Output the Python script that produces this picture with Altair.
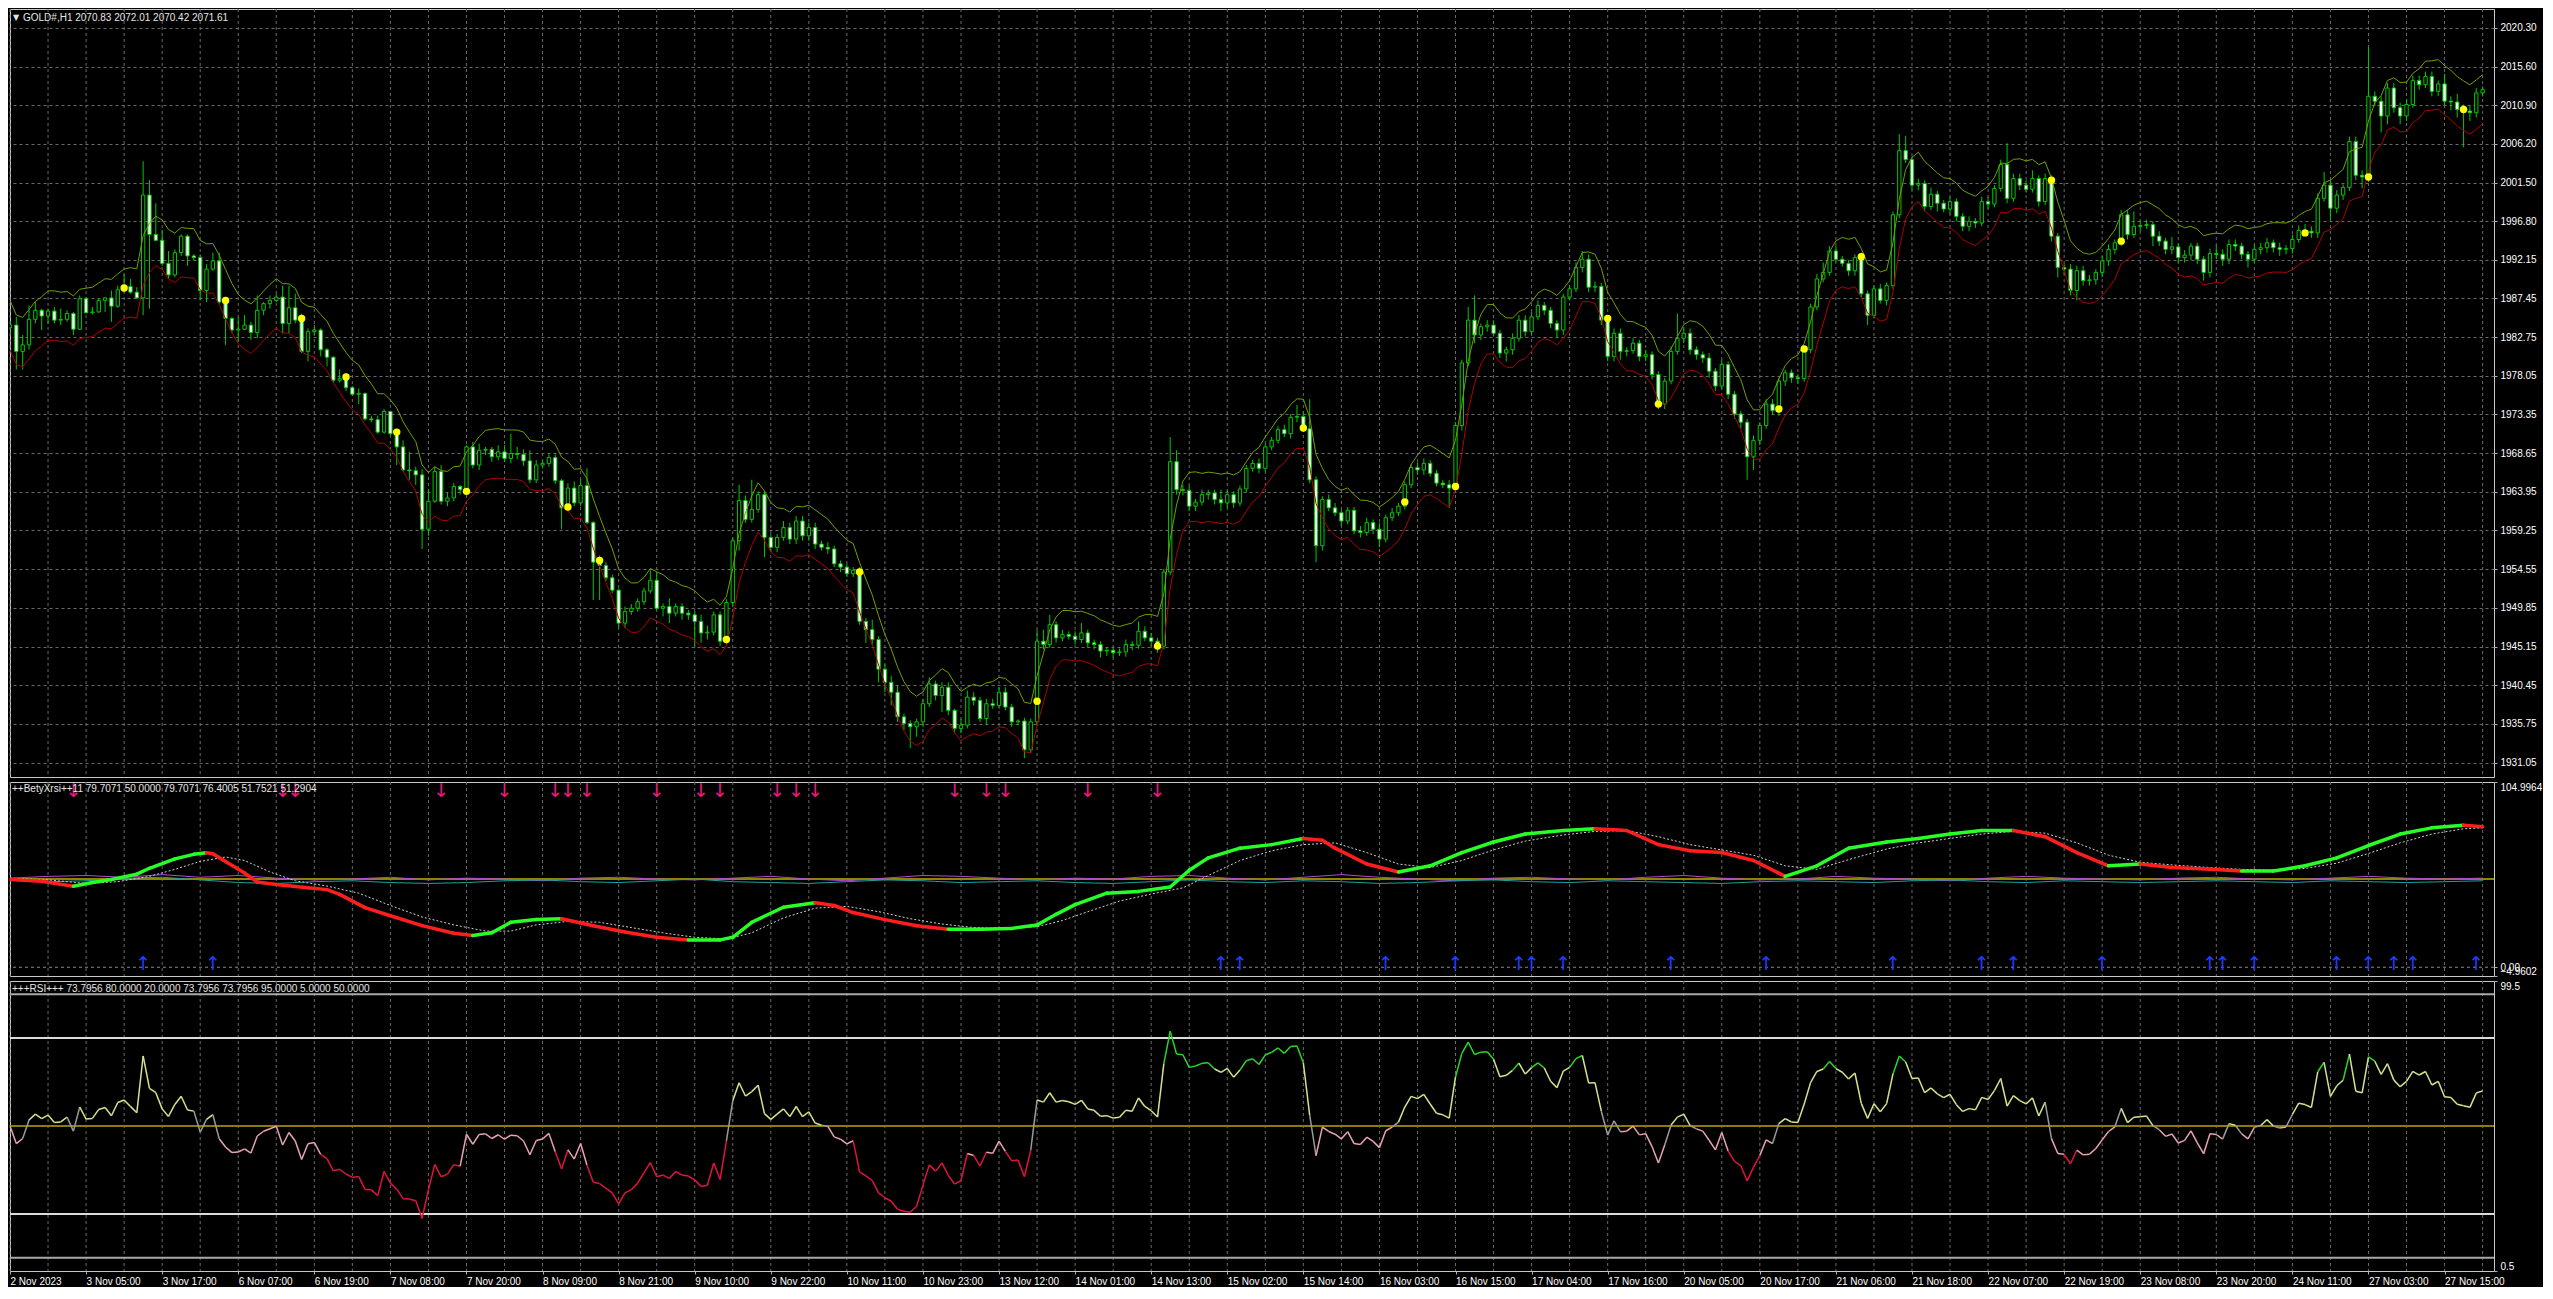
import json
import altair as alt
import pandas as pd

# ---------------- data ----------------
first_open = 1983.9
closes = [
    1984.2, 1981.0, 1981.8, 1984.9, 1986.0, 1985.3, 1985.9, 1984.8, 1984.9, 1985.6,
    1983.7, 1987.4, 1985.7, 1985.8, 1987.2, 1987.5, 1986.5, 1988.5, 1988.9, 1988.2,
    1987.5, 2000.0, 1995.2, 1994.5, 1991.7, 1990.3, 1993.0, 1995.0, 1992.6, 1992.4,
    1988.4, 1991.0, 1992.0, 1987.0, 1985.0, 1983.6, 1983.7, 1984.2, 1983.3, 1986.0,
    1986.8, 1987.2, 1987.6, 1984.4, 1986.3, 1984.8, 1981.0, 1983.4, 1983.6, 1981.2,
    1980.3, 1977.5, 1977.7, 1976.6, 1975.8, 1975.9, 1972.8, 1972.7, 1971.2, 1973.7,
    1971.0, 1969.4, 1966.6, 1966.5, 1966.0, 1959.4, 1962.8, 1966.4, 1962.8, 1963.2,
    1964.6, 1964.2, 1969.4, 1967.2, 1969.0, 1969.1, 1968.2, 1968.8, 1968.0, 1968.6,
    1968.5, 1967.7, 1965.4, 1967.2, 1967.4, 1968.1, 1965.3, 1962.0, 1964.4, 1962.6,
    1964.7, 1960.2, 1955.4, 1955.0, 1953.5, 1952.0, 1948.0, 1949.4, 1949.8, 1950.6,
    1951.9, 1953.2, 1949.8, 1950.0, 1949.2, 1950.0, 1949.2, 1949.0, 1948.2, 1946.8,
    1946.9, 1949.0, 1945.8, 1950.5, 1958.0, 1962.9, 1960.6, 1961.8, 1963.6, 1958.4,
    1957.2, 1958.4, 1959.6, 1958.2, 1960.4, 1958.6, 1959.6, 1957.6, 1957.2, 1957.0,
    1955.2, 1954.8, 1954.0, 1954.4, 1948.2, 1947.2, 1946.0, 1942.4, 1940.8, 1939.6,
    1936.6, 1935.8, 1935.4, 1936.0, 1938.2, 1940.6, 1939.2, 1940.2, 1937.4, 1935.2,
    1935.6, 1939.0, 1938.6, 1936.4, 1938.2, 1938.0, 1939.6, 1937.8, 1936.0, 1936.1,
    1932.6, 1936.0, 1945.8, 1945.4, 1947.8, 1946.2, 1946.6, 1946.4, 1946.0, 1946.8,
    1945.6, 1945.4, 1944.6, 1944.7, 1944.4, 1944.5, 1945.4, 1945.3, 1947.0, 1946.2,
    1945.8, 1945.2, 1954.2, 1967.6, 1964.2, 1964.1, 1962.2, 1962.7, 1963.6, 1963.8,
    1963.0, 1962.6, 1963.6, 1962.6, 1964.3, 1966.8, 1967.4, 1966.8, 1969.4, 1970.2,
    1971.5, 1971.0, 1973.0, 1973.1, 1971.6, 1965.4, 1957.4, 1963.0, 1962.0, 1961.4,
    1960.4, 1961.7, 1959.2, 1959.0, 1960.2, 1959.4, 1958.2, 1960.8, 1961.4, 1962.2,
    1964.8, 1966.9, 1966.6, 1967.4, 1966.2, 1965.0, 1964.8, 1964.4, 1972.0, 1979.6,
    1984.8, 1983.0, 1984.0, 1984.2, 1983.2, 1980.8, 1981.2, 1982.6, 1984.8, 1983.4,
    1985.2, 1986.6, 1986.0, 1984.4, 1983.6, 1987.6, 1988.6, 1991.2, 1992.2, 1988.8,
    1988.9, 1984.8, 1980.4, 1983.2, 1981.0, 1981.1, 1982.0, 1980.4, 1980.6, 1978.2,
    1974.6, 1977.4, 1981.0, 1982.6, 1983.2, 1981.2, 1980.6, 1980.2, 1978.6, 1976.8,
    1979.4, 1975.8, 1973.4, 1972.4, 1968.2, 1970.2, 1972.0, 1974.6, 1973.8, 1977.4,
    1978.4, 1977.8, 1977.7, 1981.2, 1986.4, 1989.8, 1990.6, 1993.2, 1992.2, 1991.7,
    1990.8, 1992.4, 1988.0, 1985.4, 1988.6, 1987.2, 1989.0, 1997.6, 2005.4, 2004.3,
    2001.2, 2001.4, 1998.6, 2000.1, 1999.0, 1998.3, 1999.2, 1997.4, 1996.2, 1996.8,
    1996.6, 1999.2, 1998.9, 2000.8, 2003.7, 1999.6, 2002.0, 2001.2, 2000.7, 2002.0,
    1999.2, 2002.0, 1995.0, 1991.2, 1991.0, 1988.4, 1990.8, 1989.6, 1989.7, 1990.6,
    1992.0, 1993.4, 1994.2, 1997.6, 1995.2, 1996.2, 1996.3, 1996.4, 1995.0, 1994.4,
    1993.4, 1993.7, 1992.4, 1992.7, 1993.8, 1992.2, 1990.6, 1992.9, 1992.8, 1992.2,
    1994.0, 1993.8, 1992.8, 1992.2, 1993.4, 1993.6, 1994.2, 1993.6, 1993.4, 1993.5,
    1994.6, 1995.7, 1995.6, 1995.4, 1999.6, 2001.2, 1998.4, 2000.0, 2000.9, 2006.5,
    2002.4, 2002.2, 2012.0, 2011.4, 2009.6, 2013.0, 2010.6, 2009.6, 2011.0, 2013.9,
    2013.4, 2014.4, 2012.6, 2013.5, 2011.4, 2011.3, 2010.4, 2010.2, 2010.0, 2012.4,
    2012.8,
]
upper_wick = [
    0.5, 1.0, 1.2, 1.7, 1.0, 0.2, 0.3, 0.5, 1.3, 0.4,
    0.2, 0.4, 0.2, 0.6, 0.2, 0.1, 0.9, 0.5, 1.5, 0.9,
    0.6, 4.1, 1.8, 3.8, 1.3, 1.5, 0.4, 0.2, 0.2, 0.2,
    0.4, 0.6, 1.0, 1.0, 0.6, 0.2, 1.5, 1.2, 0.4, 1.8,
    0.2, 0.6, 0.4, 1.4, 2.7, 1.7, 0.8, 0.4, 0.6, 0.2,
    0.2, 0.1, 1.1, 0.7, 0.2, 0.6, 0.1, 0.4, 0.5, 0.3,
    0.1, 0.2, 0.8, 2.2, 0.5, 0.7, 1.4, 0.6, 0.8, 0.6,
    0.4, 0.2, 0.2, 0.6, 0.8, 0.3, 0.3, 0.8, 0.8, 2.4,
    0.8, 0.6, 1.3, 0.6, 0.4, 0.4, 0.4, 0.2, 0.6, 0.8,
    0.8, 2.1, 0.2, 0.8, 0.4, 0.4, 0.2, 0.6, 0.5, 0.4,
    0.4, 1.2, 1.0, 0.4, 1.0, 0.4, 0.4, 0.4, 0.4, 0.8,
    0.8, 0.4, 0.4, 0.4, 0.4, 1.9, 0.6, 3.6, 0.4, 0.4,
    0.4, 0.4, 0.8, 0.6, 0.6, 0.6, 0.6, 0.6, 0.4, 0.6,
    0.4, 0.4, 0.4, 0.4, 0.4, 0.4, 1.2, 0.4, 0.6, 0.8,
    0.8, 0.4, 0.4, 0.4, 0.6, 0.8, 0.4, 0.6, 0.6, 0.2,
    0.8, 0.8, 0.6, 0.4, 0.6, 0.6, 0.6, 0.6, 0.4, 0.2,
    0.4, 0.4, 1.4, 1.4, 1.2, 0.4, 0.6, 0.4, 0.6, 1.2,
    0.4, 0.4, 0.4, 0.4, 0.4, 0.4, 0.6, 0.4, 1.2, 0.6,
    0.6, 0.4, 0.4, 3.0, 1.4, 0.6, 0.6, 0.4, 0.6, 0.4,
    0.4, 1.2, 0.6, 0.4, 0.4, 0.4, 0.4, 0.6, 0.4, 0.4,
    0.4, 0.6, 0.4, 1.4, 0.6, 3.6, 0.4, 0.4, 0.6, 0.6,
    0.4, 0.4, 0.4, 0.6, 0.6, 0.4, 0.8, 0.4, 0.6, 0.4,
    0.4, 0.4, 0.6, 0.6, 0.4, 0.4, 0.4, 0.6, 0.4, 0.4,
    1.6, 3.0, 0.4, 0.6, 0.6, 0.4, 0.4, 0.6, 0.6, 0.6,
    0.6, 0.6, 0.4, 0.4, 0.4, 0.4, 0.4, 0.6, 1.0, 0.6,
    0.6, 0.4, 0.4, 0.6, 0.6, 0.4, 0.6, 0.4, 0.6, 0.4,
    0.4, 0.4, 0.6, 3.0, 0.6, 0.6, 0.4, 0.4, 0.6, 0.4,
    0.6, 0.4, 0.4, 0.4, 0.4, 0.6, 0.4, 0.6, 0.6, 0.4,
    0.4, 0.4, 0.4, 0.4, 0.4, 0.6, 1.2, 0.6, 0.6, 0.4,
    0.4, 0.4, 0.6, 0.4, 0.4, 0.6, 0.4, 0.4, 2.0, 1.8,
    0.4, 0.6, 0.4, 0.8, 0.4, 0.4, 0.6, 0.4, 0.4, 0.6,
    0.4, 0.6, 0.6, 0.4, 0.6, 2.6, 0.6, 0.6, 0.6, 1.0,
    0.4, 0.6, 0.4, 0.4, 0.4, 0.6, 0.6, 0.6, 0.6, 0.4,
    0.6, 0.6, 0.4, 0.6, 0.6, 1.8, 0.6, 0.6, 0.4, 0.6,
    0.4, 1.2, 0.4, 0.6, 0.4, 0.4, 0.4, 0.6, 1.0, 0.6,
    0.6, 0.6, 0.4, 0.4, 0.6, 0.6, 0.6, 0.4, 0.6, 0.4,
    0.6, 0.6, 0.8, 0.6, 0.6, 1.6, 0.6, 0.6, 0.4, 0.6,
    0.6, 0.6, 6.0, 0.6, 0.6, 0.6, 0.6, 0.6, 0.6, 0.6,
    0.6, 0.6, 0.6, 0.4, 1.2, 0.6, 1.0, 0.6, 0.6, 0.6,
    0.4,
]
lower_wick = [
    0.8, 2.2, 2.2, 0.6, 0.5, 1.7, 0.9, 0.4, 0.6, 0.3,
    0.7, 0.1, 0.1, 0.2, 0.1, 1.4, 1.9, 0.2, 0.3, 0.2,
    0.1, 2.1, 9.0, 0.1, 0.3, 0.5, 0.3, 0.4, 1.2, 0.4,
    1.2, 1.4, 0.2, 0.2, 3.2, 0.4, 1.4, 0.1, 0.9, 0.7,
    0.6, 0.6, 0.2, 1.2, 1.2, 0.4, 0.2, 1.2, 0.4, 0.8,
    1.1, 0.3, 0.3, 0.4, 0.2, 1.2, 0.2, 0.3, 0.2, 0.2,
    0.2, 2.2, 0.2, 1.1, 1.2, 2.4, 0.8, 0.2, 0.4, 0.6,
    0.4, 0.6, 0.4, 0.4, 0.6, 0.6, 0.6, 0.4, 0.4, 0.6,
    0.6, 0.6, 0.4, 0.4, 0.4, 0.4, 0.4, 2.6, 0.4, 0.4,
    0.4, 0.2, 4.6, 4.2, 0.4, 0.4, 0.6, 0.6, 0.4, 0.4,
    0.4, 0.3, 0.2, 1.0, 1.2, 0.4, 0.8, 0.6, 3.0, 1.2,
    0.8, 0.4, 0.6, 0.4, 0.6, 1.2, 0.4, 0.4, 0.4, 2.4,
    0.6, 0.6, 0.4, 0.6, 0.6, 0.6, 0.6, 0.6, 0.4, 0.6,
    0.4, 0.6, 0.4, 0.4, 0.4, 1.6, 0.6, 1.6, 1.2, 1.6,
    0.6, 0.8, 2.6, 1.2, 0.6, 0.4, 0.6, 2.0, 0.6, 0.6,
    0.6, 0.4, 0.6, 0.4, 0.8, 0.4, 0.4, 0.4, 0.6, 0.4,
    1.0, 0.4, 0.4, 0.6, 0.4, 0.6, 0.4, 0.4, 0.6, 0.4,
    0.6, 0.6, 0.8, 0.6, 0.6, 0.4, 0.6, 0.6, 0.4, 0.4,
    0.6, 0.8, 0.4, 0.4, 0.6, 0.6, 0.6, 0.6, 0.4, 0.6,
    0.6, 1.0, 0.6, 0.6, 0.4, 0.4, 0.4, 0.6, 0.4, 0.4,
    0.4, 0.4, 0.6, 0.6, 0.4, 0.4, 2.0, 0.6, 0.4, 0.4,
    0.6, 0.4, 0.4, 0.6, 0.4, 0.6, 1.0, 0.4, 0.4, 0.4,
    0.4, 0.4, 0.6, 0.6, 0.4, 0.4, 0.4, 2.4, 0.4, 0.6,
    0.4, 1.0, 0.6, 0.6, 0.4, 0.6, 1.0, 0.6, 0.4, 0.6,
    0.4, 0.4, 0.6, 0.6, 1.0, 0.6, 0.4, 0.4, 0.6, 0.6,
    0.6, 0.6, 0.6, 0.6, 1.0, 0.6, 0.4, 0.6, 0.6, 0.6,
    0.6, 0.6, 0.4, 0.4, 0.6, 0.6, 0.6, 0.6, 0.8, 0.6,
    0.4, 0.6, 0.6, 0.8, 2.8, 1.6, 0.6, 0.4, 0.4, 0.6,
    0.6, 0.6, 0.6, 0.4, 0.4, 0.4, 0.4, 0.4, 0.4, 0.4,
    0.6, 0.6, 0.4, 1.2, 0.4, 0.4, 0.6, 0.4, 0.4, 0.4,
    0.6, 0.6, 0.6, 0.4, 1.0, 0.4, 0.6, 0.6, 0.6, 0.6,
    0.6, 0.4, 0.6, 0.4, 0.4, 0.6, 0.4, 0.6, 0.4, 0.4,
    0.6, 0.4, 0.6, 1.2, 0.6, 0.6, 1.2, 0.6, 0.6, 0.6,
    0.6, 0.6, 0.6, 0.4, 0.6, 0.4, 0.6, 0.4, 1.2, 0.6,
    0.6, 0.6, 0.6, 0.6, 0.6, 0.6, 1.0, 0.6, 0.6, 0.8,
    0.6, 0.6, 0.6, 1.0, 0.4, 0.6, 0.6, 0.6, 0.8, 0.6,
    0.6, 0.4, 0.6, 0.6, 0.6, 0.4, 1.4, 0.6, 0.6, 0.4,
    0.6, 1.4, 0.6, 0.6, 2.0, 1.0, 0.6, 1.0, 0.6, 0.4,
    0.6, 0.4, 0.6, 0.6, 0.6, 1.0, 1.0, 4.4, 1.0, 0.6,
    0.4,
]

dot_bars = [18, 34, 46, 53, 61, 72, 88, 93, 113, 134, 162, 181, 204, 220, 228,
            252, 260, 279, 283, 292, 322, 333, 362, 372, 387]
dot_prices = [1988.7, 1987.2, 1985.0, 1977.9, 1971.2, 1964.0, 1962.1, 1955.6, 1946.0,
              1954.2, 1938.5, 1945.2, 1971.7, 1962.7, 1964.6, 1985.0, 1974.6, 1974.0,
              1981.3, 1992.5, 2001.8, 1994.4, 1995.4, 2002.2, 2010.4]

xrsi_bars = [0, 5, 10, 13, 16, 20, 22, 26, 29, 31, 32, 34, 37, 39, 42, 47, 50, 52, 56, 60,
             65, 70, 73, 76, 79, 83, 87, 92, 97, 102, 107, 112, 114, 117, 122, 127, 130, 133,
             138, 143, 148, 153, 158, 162, 165, 168, 173, 178, 183, 186, 189, 194, 199, 204,
             207, 209, 214, 219, 224, 229, 234, 239, 245, 250, 255, 260, 265, 270, 275, 280,
             285, 290, 296, 301, 306, 311, 316, 321, 326, 331, 336, 341, 347, 352, 357, 362,
             367, 372, 377, 382, 387, 390]
xrsi_vals = [49.7, 48.7, 45.9, 48.0, 49.7, 52.8, 56.1, 61.4, 64.0, 64.9, 64.3, 59.9, 53.4,
             48.3, 46.9, 45.0, 44.0, 41.3, 33.8, 29.2, 23.6, 19.3, 18.0, 19.5, 25.5, 27.0,
             27.5, 23.5, 20.0, 17.0, 15.5, 15.5, 17.0, 25.5, 34.0, 36.5, 35.0, 31.0, 27.0,
             23.5, 21.5, 21.5, 22.0, 24.0, 30.0, 35.5, 42.0, 43.0, 45.5, 55.0, 62.0, 67.5,
             69.5, 73.0, 72.0, 67.5, 58.5, 54.0, 57.5, 65.0, 71.0, 75.5, 77.5, 78.5, 77.5,
             69.5, 66.0, 65.0, 60.5, 51.5, 57.5, 67.5, 71.0, 73.0, 75.5, 77.5, 77.5, 74.0,
             65.0, 57.5, 58.5, 56.5, 55.5, 54.5, 54.5, 57.5, 62.0, 69.0, 75.5, 79.0, 80.5,
             79.7]

sig_bars = [0, 6, 12, 17, 22, 26, 30, 34, 37, 41, 45, 50, 55, 60, 65, 70, 75, 79, 83, 88,
            93, 98, 103, 108, 113, 117, 122, 127, 132, 137, 142, 147, 152, 157, 162, 166,
            170, 175, 180, 185, 189, 194, 199, 204, 209, 214, 219, 224, 229, 234, 239, 245,
            250, 255, 260, 265, 270, 275, 280, 285, 290, 296, 301, 306, 311, 316, 321, 326,
            331, 336, 341, 347, 352, 357, 362, 367, 372, 377, 382, 387, 390]
sig_vals = [50.5, 49.5, 47.5, 48.5, 51.5, 55.5, 60.0, 62.5, 60.5, 54.0, 49.0, 46.0, 42.0,
            35.0, 28.5, 24.0, 20.5, 20.5, 24.0, 26.0, 25.5, 22.5, 19.5, 17.0, 16.0, 19.5,
            28.0, 33.5, 34.5, 31.5, 27.5, 24.5, 22.5, 22.0, 23.0, 26.5, 31.5, 37.5, 41.5,
            45.0, 52.0, 60.5, 66.0, 69.5, 70.5, 65.0, 58.5, 56.5, 60.5, 66.5, 71.5, 75.0,
            77.0, 77.5, 74.0, 69.5, 66.5, 63.5, 57.5, 55.5, 61.0, 67.0, 70.5, 73.0, 75.5,
            77.0, 76.0, 70.5, 63.5, 59.5, 58.0, 56.5, 55.5, 55.0, 56.0, 59.0, 64.5, 70.5,
            75.5, 78.5, 79.0]

thin_bars = list(range(0, 391, 6))
thin_purple = [50.5, 51.5, 52.0, 51.0, 52.5, 51.0, 52.0, 50.5, 49.5, 50.0, 51.0,
               49.5, 50.5, 50.0, 49.0, 50.5, 51.0, 50.0, 49.5, 50.5, 51.5, 50.0,
               49.0, 50.5, 52.0, 51.5, 50.5, 49.5, 50.5, 50.0, 51.5, 52.0, 50.5,
               49.5, 51.0, 52.5, 51.0, 50.0, 49.0, 50.5, 51.0, 50.0, 49.5, 51.0,
               52.0, 50.5, 49.5, 50.0, 51.5, 50.5, 50.0, 49.0, 50.5, 51.5, 50.5,
               50.0, 49.5, 50.5, 51.0, 50.0, 49.5, 50.5, 51.5, 50.5, 50.0, 50.5]
thin_teal = [49.5, 48.5, 49.0, 50.5, 51.0, 49.5, 48.0, 47.5, 48.5, 49.0, 48.0,
             47.5, 48.0, 49.0, 49.5, 48.5, 48.0, 49.0, 50.0, 48.5, 48.0, 47.5,
             48.5, 49.5, 49.0, 48.0, 48.5, 49.0, 48.0, 47.5, 48.5, 49.5, 48.5,
             48.0, 49.0, 48.5, 47.5, 48.0, 49.0, 49.5, 48.5, 48.0, 49.0, 48.5,
             48.0, 47.5, 48.5, 49.0, 48.5, 48.0, 49.0, 49.5, 48.5, 48.0, 49.0,
             48.5, 48.0, 48.5, 49.0, 48.5, 48.0, 49.0, 48.5, 48.0, 48.5, 49.0]

down_arrow_bars = [10, 43, 45, 68, 78, 86, 88, 91, 102, 109, 112, 121, 124, 127, 149,
                   154, 157, 170, 181]
up_arrow_bars = [21, 32, 191, 194, 217, 228, 238, 240, 245, 262, 277, 297, 311, 316,
                 330, 347, 349, 354, 367, 372, 376, 379, 389]

price_ticks = [2020.30, 2015.60, 2010.90, 2006.20, 2001.50, 1996.80, 1992.15, 1987.45,
               1982.75, 1978.05, 1973.35, 1968.65, 1963.95, 1959.25, 1954.55, 1949.85,
               1945.15, 1940.45, 1935.75, 1931.05]
date_labels = ["2 Nov 2023", "3 Nov 05:00", "3 Nov 17:00", "6 Nov 07:00", "6 Nov 19:00",
               "7 Nov 08:00", "7 Nov 20:00", "8 Nov 09:00", "8 Nov 21:00", "9 Nov 10:00",
               "9 Nov 22:00", "10 Nov 11:00", "10 Nov 23:00", "13 Nov 12:00", "14 Nov 01:00",
               "14 Nov 13:00", "15 Nov 02:00", "15 Nov 14:00", "16 Nov 03:00", "16 Nov 15:00",
               "17 Nov 04:00", "17 Nov 16:00", "20 Nov 05:00", "20 Nov 17:00", "21 Nov 06:00",
               "21 Nov 18:00", "22 Nov 07:00", "22 Nov 19:00", "23 Nov 08:00", "23 Nov 20:00",
               "24 Nov 11:00", "27 Nov 03:00", "27 Nov 15:00"]
rsi_levels = [95, 80, 50, 20, 5]
rsi_level_colors = ["#a8a8a8", "#dcdcdc", "#8a7d00", "#dcdcdc", "#a8a8a8"]

main_title = "GOLD#,H1  2070.83 2072.01 2070.42 2071.61"
xrsi_title = "++BetyXrsi++11 79.7071 50.0000 79.7071 76.4005 51.7521 51.2904"
rsi_title = "+++RSI+++ 73.7956 80.0000 20.0000 73.7956 73.7956 95.0000 5.0000 50.0000"

# ---------------- tables built from the lists ----------------
N = len(closes)
opens = [first_open] + closes[:-1]
highs = [max(o, c) + u for o, c, u in zip(opens, closes, upper_wick)]
lows = [min(o, c) - l for o, c, l in zip(opens, closes, lower_wick)]
HALF = 0.26
candles = pd.DataFrame({
    "j": list(range(N)), "o": opens, "c": closes, "h": highs, "l": lows,
})
candles["xl"] = candles["j"] - HALF
candles["xr"] = candles["j"] + HALF
candles["top"] = candles[["o", "c"]].max(axis=1)
candles["bot"] = candles[["o", "c"]].min(axis=1)
candles["fill"] = ["#ffffff" if c < o else "#000000" for o, c in zip(opens, closes)]

# envelope (weighted MA of closes +/- offset) and RSI(14) from the closes
mid = []
for i in range(N):
    s = w = 0.0
    for k in range(5):
        if i - k >= 0:
            s += (5 - k) * closes[i - k]
            w += (5 - k)
    mid.append(s / w)
band = pd.DataFrame({"j": list(range(N)), "up": [m + 3.0 for m in mid], "dn": [m - 3.0 for m in mid]})

ag = al = 0.9
rsi = [50.0]
for i in range(1, N):
    d = closes[i] - closes[i - 1]
    ag = (ag * 13 + max(d, 0)) / 14
    al = (al * 13 + max(-d, 0)) / 14
    rsi.append(100 - 100 / (1 + ag / al) if al > 0 else 100.0)


def rsi_col(a, b):
    if min(a, b) < 50 < max(a, b):
        return "#9a9a9a"
    m = (a + b) / 2
    if m >= 70:
        return "#2ad62a"
    if m >= 50:
        return "#d2e48c"
    if m >= 40:
        return "#e8a3b2"
    return "#e0143c"


rsi_seg = pd.DataFrame({
    "j": list(range(N - 1)), "j2": list(range(1, N)),
    "v": rsi[:-1], "v2": rsi[1:],
    "col": [rsi_col(rsi[i], rsi[i + 1]) for i in range(N - 1)],
})

xr_seg = pd.DataFrame({
    "j": xrsi_bars[:-1], "j2": xrsi_bars[1:],
    "v": xrsi_vals[:-1], "v2": xrsi_vals[1:],
    "col": ["#27ff27" if b >= a else "#ff1e1e" for a, b in zip(xrsi_vals[:-1], xrsi_vals[1:])],
})
sig_df = pd.DataFrame({"j": sig_bars, "v": sig_vals})
thin_df = pd.DataFrame({"j": thin_bars * 2, "v": thin_purple + thin_teal,
                        "s": ["p"] * len(thin_bars) + ["t"] * len(thin_bars)})
dots = pd.DataFrame({"j": dot_bars, "p": dot_prices})
down_df = pd.DataFrame({"j": down_arrow_bars, "v": [100.0] * len(down_arrow_bars), "t": ["↓"] * len(down_arrow_bars)})
up_df = pd.DataFrame({"j": up_arrow_bars, "v": [0.4] * len(up_arrow_bars), "t": ["↑"] * len(up_arrow_bars)})
grid_df = pd.DataFrame({"j": list(range(0, N, 6))})
lev_df = pd.DataFrame({"v": rsi_levels, "col": rsi_level_colors})

# ---------------- chart ----------------
W = 2484
H1, H2, H3 = 768, 194, 290
FONT = "Liberation Sans"
GRID = "#6a6a6a"
XS = alt.Scale(domain=[0, 391.8], nice=False, zero=False)
YS1 = alt.Scale(domain=[1929.3, 2022.6], nice=False, zero=False)
YS2 = alt.Scale(domain=[-4.9602, 104.9964], nice=False, zero=False)
YS3 = alt.Scale(domain=[0.5, 99.5], nice=False, zero=False)

YAX1 = alt.Axis(orient="right", values=price_ticks, format=".2f", grid=True, gridColor=GRID,
                gridDash=[3, 3], gridWidth=1, tickSize=3, labelPadding=3, title=None,
                labelOverlap=False, domain=False)
YAX2 = alt.Axis(orient="right", values=[104.9964, 0, -4.9602], grid=False, tickSize=3,
                labelPadding=3, title=None, labelOverlap=False, domain=False, labelFlush=True,
                labelExpr="datum.value == 0 ? '0.00' : format(datum.value, '.4f')")
YAX3 = alt.Axis(orient="right", values=[99.5, 0.5], format=".1f", grid=False, tickSize=3,
                labelPadding=3, title=None, labelOverlap=False, domain=False, labelFlush=True)
XAX3 = alt.Axis(orient="bottom", values=list(range(0, 385, 12)),
                labelExpr=json.dumps(date_labels) + "[round(datum.value / 12)]",
                labelAlign="left", labelBaseline="top", labelPadding=2, tickSize=3,
                grid=False, domain=False, title=None, labelOverlap=False, labelFlush=False)


def X(field, ax=None):
    return alt.X(field, scale=XS, axis=ax)


def label(text, x, y, size=10, font=FONT):
    return alt.Chart(pd.DataFrame({"t": [text]})).mark_text(
        align="left", baseline="middle", font=font, fontSize=size, color="#e6e6e6"
    ).encode(x=alt.value(x), y=alt.value(y), text="t:N")


def vgrid(ax=None):
    return alt.Chart(grid_df).mark_rule(color=GRID, strokeDash=[3, 3], strokeWidth=1).encode(
        x=X("j:Q", ax))


# main price panel
wicks = alt.Chart(candles).mark_rule(color="#00c800", strokeWidth=1, clip=True).encode(
    x=X("j:Q"), y=alt.Y("l:Q", scale=YS1, axis=YAX1), y2="h:Q")
bodies = alt.Chart(candles).mark_rect(stroke="#00c800", strokeWidth=1, clip=True).encode(
    x=X("xl:Q"), x2="xr:Q", y=alt.Y("top:Q", scale=YS1, axis=YAX1), y2="bot:Q",
    fill=alt.Fill("fill:N", scale=None))
up_line = alt.Chart(band).mark_line(color="#72a000", strokeWidth=1, clip=True).encode(
    x=X("j:Q"), y=alt.Y("up:Q", scale=YS1, axis=YAX1))
dn_line = alt.Chart(band).mark_line(color="#b00000", strokeWidth=1, clip=True).encode(
    x=X("j:Q"), y=alt.Y("dn:Q", scale=YS1, axis=YAX1))
dot_layer = alt.Chart(dots).mark_circle(color="#ffff00", size=55, opacity=1).encode(
    x=X("j:Q"), y=alt.Y("p:Q", scale=YS1, axis=YAX1))
main = alt.layer(
    vgrid(), wicks, bodies, up_line, dn_line, dot_layer,
    label("▼", 3, 9, size=8, font="DejaVu Sans"), label(main_title, 13, 9),
).properties(width=W, height=H1)

# BetyXrsi panel
zero_line = alt.Chart(pd.DataFrame({"v": [0.0]})).mark_rule(
    color="#8a8a8a", strokeDash=[3, 3], strokeWidth=1).encode(
    y=alt.Y("v:Q", scale=YS2, axis=YAX2))
fifty_line = alt.Chart(pd.DataFrame({"v": [50.0]})).mark_rule(
    color="#8f8600", strokeWidth=2).encode(y=alt.Y("v:Q", scale=YS2, axis=YAX2))
thin_lines = alt.Chart(thin_df).mark_line(strokeWidth=1, clip=True).encode(
    x=X("j:Q"), y=alt.Y("v:Q", scale=YS2, axis=YAX2),
    color=alt.Color("s:N", scale=alt.Scale(domain=["p", "t"], range=["#b04ad6", "#1fa0a0"]),
                    legend=None))
sig_line = alt.Chart(sig_df).mark_line(color="#d0d0d0", strokeWidth=1, strokeDash=[2, 2],
                                       clip=True).encode(
    x=X("j:Q"), y=alt.Y("v:Q", scale=YS2, axis=YAX2))
thick = alt.Chart(xr_seg).mark_rule(strokeWidth=3.5, strokeCap="round", clip=True).encode(
    x=X("j:Q"), x2="j2:Q", y=alt.Y("v:Q", scale=YS2, axis=YAX2), y2="v2:Q",
    color=alt.Color("col:N", scale=None))
down_arrows = alt.Chart(down_df).mark_text(font="DejaVu Sans", fontSize=19, color="#e8197d",
                                           baseline="middle").encode(
    x=X("j:Q"), y=alt.Y("v:Q", scale=YS2, axis=YAX2), text="t:N")
up_arrows = alt.Chart(up_df).mark_text(font="DejaVu Sans", fontSize=19, color="#1f3cff",
                                       baseline="bottom", dy=7).encode(
    x=X("j:Q"), y=alt.Y("v:Q", scale=YS2, axis=YAX2), text="t:N")
p2 = alt.layer(
    vgrid(), zero_line, fifty_line, thin_lines, sig_line, thick, down_arrows, up_arrows,
    label(xrsi_title, 2, 7),
).properties(width=W, height=H2)

# RSI panel
levels = alt.Chart(lev_df).mark_rule(strokeWidth=2).encode(
    y=alt.Y("v:Q", scale=YS3, axis=YAX3), color=alt.Color("col:N", scale=None))
rsi_line = alt.Chart(rsi_seg).mark_rule(strokeWidth=1.5, clip=True).encode(
    x=X("j:Q", XAX3), x2="j2:Q", y=alt.Y("v:Q", scale=YS3, axis=YAX3), y2="v2:Q",
    color=alt.Color("col:N", scale=None))
p3 = alt.layer(
    vgrid(XAX3), levels, rsi_line, label(rsi_title, 2, 8),
).properties(width=W, height=H3)

chart = alt.vconcat(main, p2, p3, spacing=3).properties(
    background="#000000", padding=0
).configure_view(stroke="#c8c8c8", strokeWidth=1).configure_axis(
    labelFont=FONT, labelFontSize=10, labelColor="#ffffff", tickColor="#b0b0b0"
)

chart.save("out.html", embed_options={"renderer": "svg", "actions": False})
